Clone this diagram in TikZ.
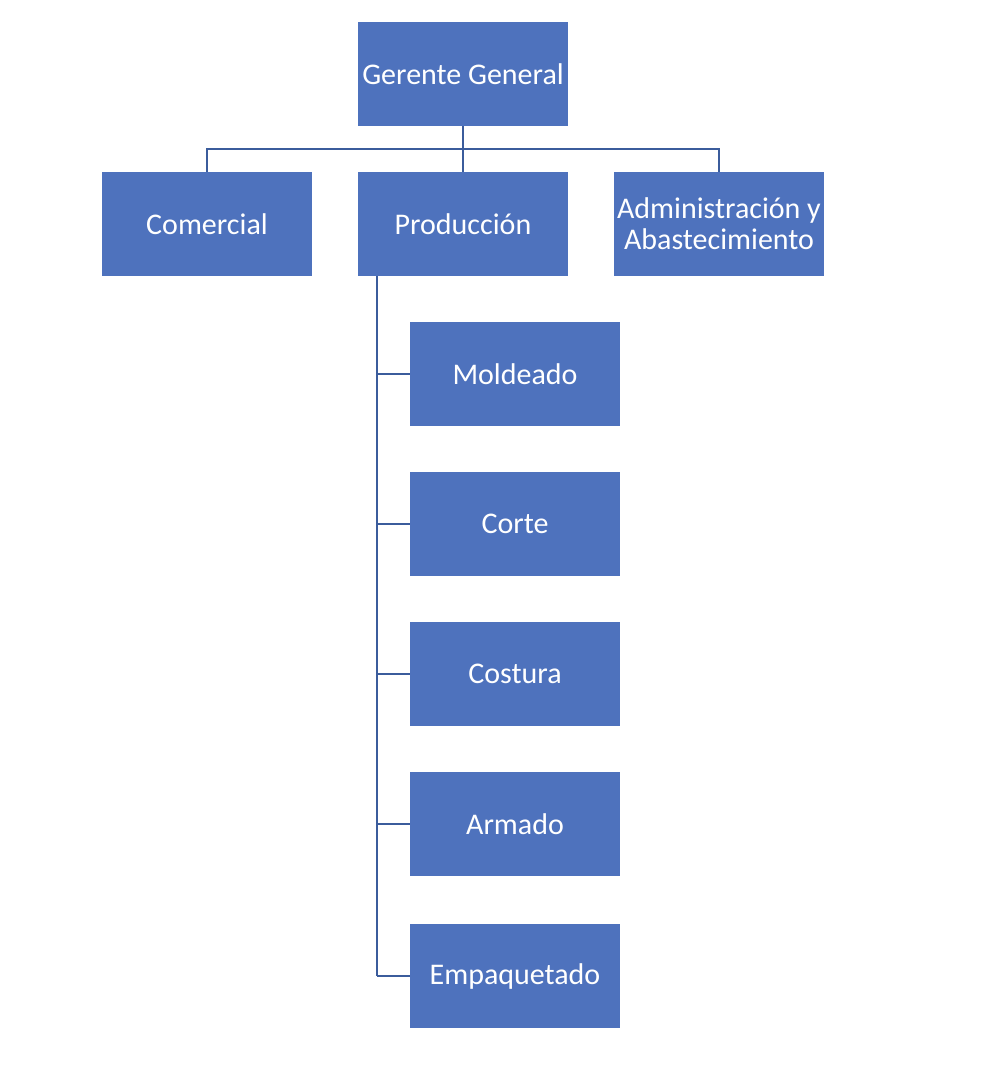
\documentclass[tikz,border=0pt]{standalone}
\usepackage{fontspec}
\setmainfont{Carlito}
\usetikzlibrary{calc}
\definecolor{boxblue}{HTML}{4E72BD}
\definecolor{lineblue}{HTML}{3B5C9C}

\tikzset{
	unit/.style={fill=boxblue, text=white, minimum width=210pt, minimum height=104pt, inner sep=0pt, align=center, font=\fontsize{30}{31}\selectfont},
	link/.style={line width=1.5pt, color=lineblue}
}

\begin{document}
\begin{tikzpicture}[x=1pt, y=-1pt]
		%%%%% START %%%%%
		\useasboundingbox (0, 0) rectangle (1002, 1088);
		
		\node[unit] (gerente) at (463, 74) {Gerente General};
		
		\node[unit] (comercial) at (207, 224) {Comercial};
		\node[unit] (produccion) at (463, 224) {Producción};
		\node[unit] (admin) at (719, 224) {Administración y\\Abastecimiento};
		
		\draw[link] (gerente.south) -- ++(0, 23) coordinate (bus);
		\draw[link] (comercial.north) |- (bus) -| (admin.north);
		\draw[link] (bus) -- (produccion.north);
		
		\coordinate (trunk) at ($(produccion.south west)+(19, 0)$);
		
		\foreach \y/\name/\txt in {374/moldeado/Moldeado, 524/corte/Corte, 674/costura/Costura, 824/armado/Armado, 976/empaquetado/Empaquetado}
		{
			\node[unit] (\name) at (515, \y) {\txt};
			\draw[link] (trunk |- \name.west) -- (\name.west);
		}
		
		\draw[link] (trunk) -- (trunk |- empaquetado.west);
		
		%%%%% END %%%%%
\end{tikzpicture}
\end{document}
